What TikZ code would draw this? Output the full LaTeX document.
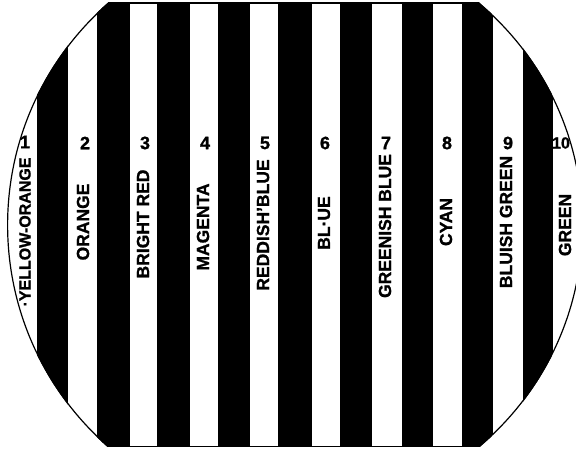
\documentclass[tikz,border=0pt]{standalone}
\usepackage{fontspec}
\setsansfont[BoldFeatures={FakeBold=1}]{Liberation Sans}
\begin{document}
\begin{tikzpicture}[x=1pt,y=1pt,
  lab/.style={font=\sffamily\bfseries\fontsize{17.5}{17.5}\selectfont, inner sep=0pt, rotate=90},
  num/.style={font=\sffamily\bfseries\fontsize{18}{18}\selectfont, inner sep=0pt},
  edge/.style={line width=2.4pt, black}]
\useasboundingbox (0,0) rectangle (576,450);
\begin{scope}
  \clip (302,225) circle[radius=295pt];
  \clip (293,225) circle[radius=290pt];
  \clip (-10,3) rectangle (600,447);
  \foreach \a/\b in {37/68, 97/130, 157/190, 218/250, 278/312, 340/372, 402/433, 462/493, 523/553}
    \fill[black] (\a,-5) rectangle (\b,455);
  \draw[edge] (302,225) circle[radius=295pt];
  \draw[edge] (293,225) circle[radius=290pt];
  \draw[edge] (-10,3) -- (600,3);
  \draw[edge] (-10,447) -- (600,447);
\end{scope}
% numbers
\node[num] (n1) at (25,308) {1};
\node[num] (n2) at (85,307) {2};
\node[num] (n3) at (145,307) {3};
\node[num] (n4) at (205,307) {4};
\node[num] (n5) at (265,307) {5};
\node[num] (n6) at (325,307) {6};
\node[num] (n7) at (386,307) {7};
\node[num] (n8) at (447,307) {8};
\node[num] (n9) at (508,307) {9};
\node[num, font=\sffamily\bfseries\fontsize{16}{16}\selectfont] (n10) at (561,307) {10};
% labels
\node[lab, font=\sffamily\bfseries\fontsize{16}{16}\selectfont] (l1) at (25,218) {·YELLOW-ORANGE};
\node[lab] (l2) at (83,228) {ORANGE};
\node[lab] (l3) at (143,226) {BRIGHT RED};
\node[lab] (l4) at (203,223) {MAGENTA};
\node[lab] (l5) at (263,225) {REDDISH'BLUE};
\node[lab] (l6) at (324,227) {BL·UE};
\node[lab] (l7) at (385,224) {GREENISH BLUE};
\node[lab] (l8) at (446,228) {CYAN};
\node[lab] (l9) at (506,228) {BLUISH GREEN};
\node[lab] (l10) at (565,225) {GREEN};
\end{tikzpicture}
\end{document}
